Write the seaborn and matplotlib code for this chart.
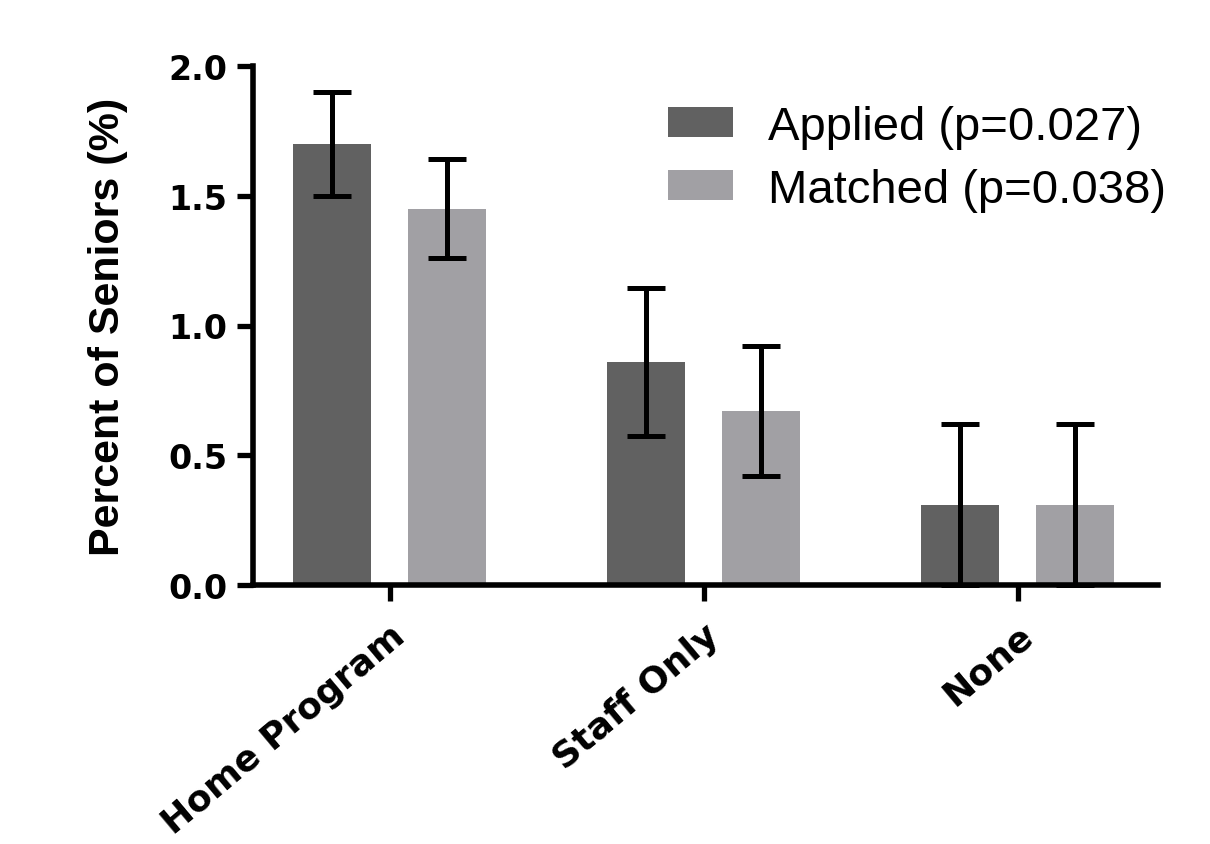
import matplotlib
matplotlib.use("Agg")
import matplotlib.pyplot as plt
import seaborn as sns
import pandas as pd
import numpy as np

categories = ["Home Program", "Staff Only", "None"]
groups = ["Applied (p=0.027)", "Matched (p=0.038)"]
applied = [1.70, 0.86, 0.31]
matched = [1.45, 0.67, 0.31]
applied_err = [0.20, 0.285, 0.31]
matched_err = [0.19, 0.25, 0.31]
ytick_vals = [0, 0.5, 1.0, 1.5, 2.0]
ytick_labels = ["0.0", "0.5", "1.0", "1.5", "2.0"]

sns.set_theme(style="ticks")
plt.rcParams["font.family"] = ["Liberation Sans", "DejaVu Sans"]
plt.rcParams["text.color"] = "black"
plt.rcParams["axes.labelcolor"] = "black"
plt.rcParams["axes.edgecolor"] = "black"

df = pd.DataFrame({
    "cat": categories * 2,
    "grp": [groups[0]] * 3 + [groups[1]] * 3,
    "val": applied + matched,
})
errs = {groups[0]: applied_err, groups[1]: matched_err}
vals = {groups[0]: applied, groups[1]: matched}

W, H = 1210, 845
fig = plt.figure(figsize=(W / 100, H / 100), dpi=100)
L, R, B, T = 253, 1158, 586, 67
ax = fig.add_axes([L / W, 1 - B / H, (R - L) / W, (B - T) / H])
palette = {groups[0]: "#616161", groups[1]: "#a1a0a4"}
sns.barplot(data=df, x="cat", y="val", hue="grp", order=categories,
            hue_order=groups, palette=palette, width=0.732, gap=0.322,
            errorbar=None, ax=ax, saturation=1, linewidth=0, legend=True)

for container, g in zip(ax.containers, groups):
    xs = [p.get_x() + p.get_width() / 2 for p in container.patches]
    v = np.array(vals[g])
    e = np.array(errs[g])
    lower = np.minimum(e, v)
    ax.errorbar(xs, v, yerr=[lower, e], fmt="none", ecolor="black",
                elinewidth=3.6, capsize=14, capthick=3.6, zorder=5, clip_on=False)

ax.set_xlim(-0.435, 2.447)
ax.set_ylim(0, 2.0)
ax.set_yticks(ytick_vals)
ax.set_yticklabels(ytick_labels, fontsize=24, fontweight="bold", family="DejaVu Sans")
ax.set_xticks(range(3))
ax.set_xticklabels(categories, fontsize=26, fontweight="bold", rotation=40,
                   ha="right", rotation_mode="anchor", family="DejaVu Sans")
ax.set_xlabel("")
ax.set_ylabel("Percent of Seniors (%)", fontsize=31, fontweight="bold")
ax.yaxis.set_label_coords((128 - L) / (R - L), 0.5)
sns.despine(ax=ax)
for s in ["left", "bottom"]:
    ax.spines[s].set_linewidth(4)
    ax.spines[s].set_color("black")
ax.tick_params(axis="both", width=3.8, length=11.5, colors="black")
ax.tick_params(axis="y", pad=7)
ax.tick_params(axis="x", pad=12)

fs = 34
leg = ax.legend(loc="upper left", bbox_to_anchor=(668 / W, 1 - 106 / H),
                bbox_transform=fig.transFigure, frameon=False, fontsize=fs,
                handlelength=65 / 47.2, handleheight=28 / 47.2, handletextpad=35 / 47.2,
                labelspacing=0.4, borderpad=0, borderaxespad=0)
for t in leg.get_texts():
    t.set_color("black")

fig.savefig("out.png", dpi=100)
